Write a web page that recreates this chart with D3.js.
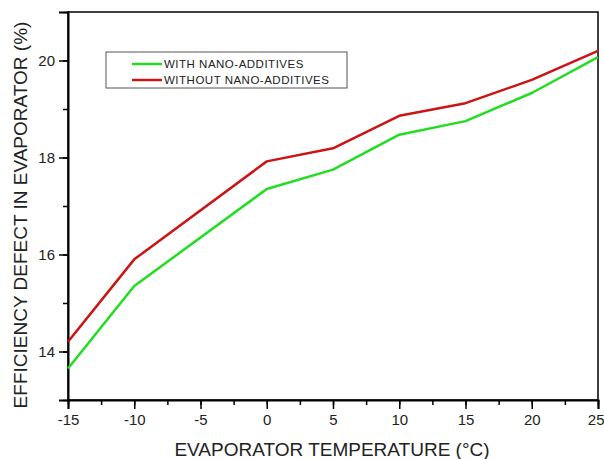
<!DOCTYPE html>
<html><head><meta charset="utf-8">
<script src="https://cdn.jsdelivr.net/npm/d3@7"></script>
<style>body{margin:0;background:#fff;}svg{display:block;font-family:Arial,"Liberation Sans",sans-serif;}</style>
</head><body><svg id="c" width="604" height="459"></svg>
<script>
const temps = [-15, -10, 0, 5, 10, 15, 20, 25];
const withNano = [13.65, 15.35, 17.35, 17.75, 18.47, 18.75, 19.33, 20.07];
const withoutNano = [14.2, 15.9, 17.92, 18.19, 18.86, 19.12, 19.6, 20.2];
const xTicks = [-15, -10, -5, 0, 5, 10, 15, 20, 25];
const yTicks = [14, 16, 18, 20];
const seriesNames = ["WITH NANO-ADDITIVES", "WITHOUT NANO-ADDITIVES"];
const colors = ["#22dd22", "#cc1414"];

const svg = d3.select("#c");
const L = 68, R = 598, T = 12, B = 400;
const x = d3.scaleLinear().domain([-15, 25]).range([L, R]);
const y = d3.scaleLinear().domain([13, 21]).range([B, T]);

// frame
svg.append("rect").attr("x", L).attr("y", T).attr("width", R - L).attr("height", B - T)
  .attr("fill", "none").attr("stroke", "#000").attr("stroke-width", 1.5);

const fmt = d => String(d);

// x axis
const xMinor = d3.range(-15, 25.1, 2.5);
svg.append("g").attr("transform", `translate(0,${B})`)
  .call(d3.axisBottom(x).tickValues(xMinor).tickSize(5).tickFormat(""))
  .call(g => { g.select(".domain").remove(); g.selectAll("line").attr("stroke-width", 1.5); });
svg.append("g").attr("transform", `translate(0,${B})`)
  .call(d3.axisBottom(x).tickValues(xTicks).tickSize(9).tickPadding(5).tickFormat(fmt))
  .call(g => { g.select(".domain").attr("stroke-width", 2);
    g.selectAll("line").attr("stroke-width", 1.5);
    g.selectAll("text").attr("font-size", 15).attr("fill", "#222").attr("font-family", "Arial, Liberation Sans, sans-serif");
    g.selectAll(".tick").filter(d => d === 25).select("text").attr("text-anchor", "end").attr("x", 6); });

// y axis
const yMinor = d3.range(13, 21.01, 1);
svg.append("g").attr("transform", `translate(${L},0)`)
  .call(d3.axisLeft(y).tickValues(yMinor).tickSize(5).tickFormat(""))
  .call(g => { g.select(".domain").remove(); g.selectAll("line").attr("stroke-width", 1.5); });
svg.append("g").attr("transform", `translate(${L},0)`)
  .call(d3.axisLeft(y).tickValues(yTicks).tickSize(9).tickPadding(4).tickFormat(fmt))
  .call(g => { g.select(".domain").attr("stroke-width", 2);
    g.selectAll("line").attr("stroke-width", 1.5);
    g.selectAll("text").attr("font-size", 15).attr("fill", "#222").attr("font-family", "Arial, Liberation Sans, sans-serif"); });

// lines
const line = d3.line().x((d, i) => x(temps[i])).y(d => y(d));
[withNano, withoutNano].forEach((s, k) => {
  svg.append("path").datum(s).attr("d", line).attr("fill", "none")
    .attr("stroke", colors[k]).attr("stroke-width", 2.5).attr("stroke-linejoin", "round");
});

// titles
svg.append("text").attr("x", 332).attr("y", 456).attr("text-anchor", "middle")
  .attr("font-size", 19).attr("fill", "#222").text("EVAPORATOR TEMPERATURE (°C)");
svg.append("text").attr("transform", `translate(27,215) rotate(-90)`)
  .attr("text-anchor", "middle").attr("font-size", 19).attr("fill", "#222")
  .text("EFFICIENCY DEFECT IN EVAPORATOR (%)");

// legend
const lg = svg.append("g");
lg.append("rect").attr("x", 106).attr("y", 52).attr("width", 241).attr("height", 36)
  .attr("fill", "#fff").attr("stroke", "#555").attr("stroke-width", 1);
seriesNames.forEach((n, k) => {
  const yy = 64 + k * 16;
  lg.append("line").attr("x1", 132).attr("x2", 162).attr("y1", yy).attr("y2", yy)
    .attr("stroke", colors[k]).attr("stroke-width", 2.5);
  lg.append("text").attr("x", 164).attr("y", yy + 4).attr("font-size", 11.5)
    .attr("letter-spacing", 0.5).attr("fill", "#222").text(n);
});
</script></body></html>
